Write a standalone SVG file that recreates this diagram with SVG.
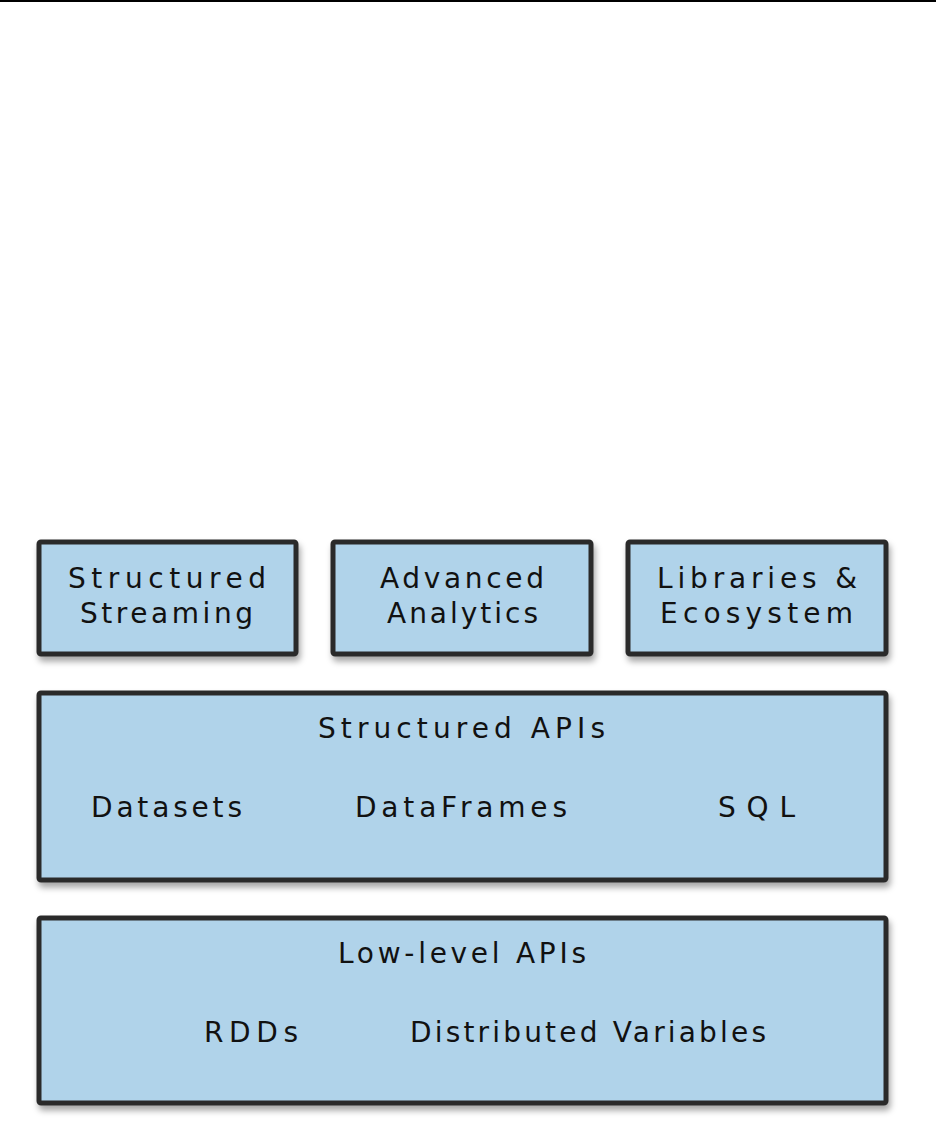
<svg xmlns="http://www.w3.org/2000/svg" width="936" height="1132" viewBox="0 0 936 1132">
<defs>
<filter id="sh" x="-5%" y="-10%" width="115%" height="130%">
<feDropShadow dx="2" dy="5" stdDeviation="3" flood-color="#000" flood-opacity="0.35"/>
</filter>
<style>
.box{fill:#b0d3ea;stroke:#2b2b2b;stroke-width:5;stroke-linejoin:round;filter:url(#sh)}
.t{font-family:"DejaVu Sans","Liberation Sans",sans-serif;font-size:28px;fill:#111}
</style>
</defs>
<rect x="0" y="0" width="936" height="1132" fill="#fff"/>
<rect x="0" y="0" width="936" height="2" fill="#000"/>
<g id="structured-streaming">
<rect class="box" x="39" y="542" width="257" height="112" rx="2"/>
<text class="t" x="68" y="588" textLength="198" lengthAdjust="spacing">Structured</text>
<text class="t" x="80" y="623" textLength="173" lengthAdjust="spacing">Streaming</text>
</g>
<g id="advanced-analytics">
<rect class="box" x="333" y="542" width="258" height="112" rx="2"/>
<text class="t" x="380" y="588" textLength="164" lengthAdjust="spacing">Advanced</text>
<text class="t" x="387" y="623" textLength="151" lengthAdjust="spacing">Analytics</text>
</g>
<g id="libraries-ecosystem">
<rect class="box" x="628" y="542" width="258" height="112" rx="2"/>
<text class="t" x="657" y="588" textLength="200" lengthAdjust="spacing">Libraries &amp;</text>
<text class="t" x="660" y="623" textLength="193" lengthAdjust="spacing">Ecosystem</text>
</g>
<g id="structured-apis">
<rect class="box" x="39" y="693" width="847" height="187" rx="2"/>
<text class="t" x="318" y="738" textLength="287" lengthAdjust="spacing">Structured APIs</text>
<text class="t" x="91" y="817" textLength="151" lengthAdjust="spacing">Datasets</text>
<text class="t" x="355" y="817" textLength="212" lengthAdjust="spacing">DataFrames</text>
<text class="t" x="718" y="817" textLength="77" lengthAdjust="spacing">SQL</text>
</g>
<g id="low-level-apis">
<rect class="box" x="39" y="918" width="847" height="185" rx="2"/>
<text class="t" x="338" y="963" textLength="248" lengthAdjust="spacing">Low-level APIs</text>
<text class="t" x="204" y="1042" textLength="94" lengthAdjust="spacing">RDDs</text>
<text class="t" x="410" y="1042" textLength="356" lengthAdjust="spacing">Distributed Variables</text>
</g>
<g id="connectors"></g>
</svg>
